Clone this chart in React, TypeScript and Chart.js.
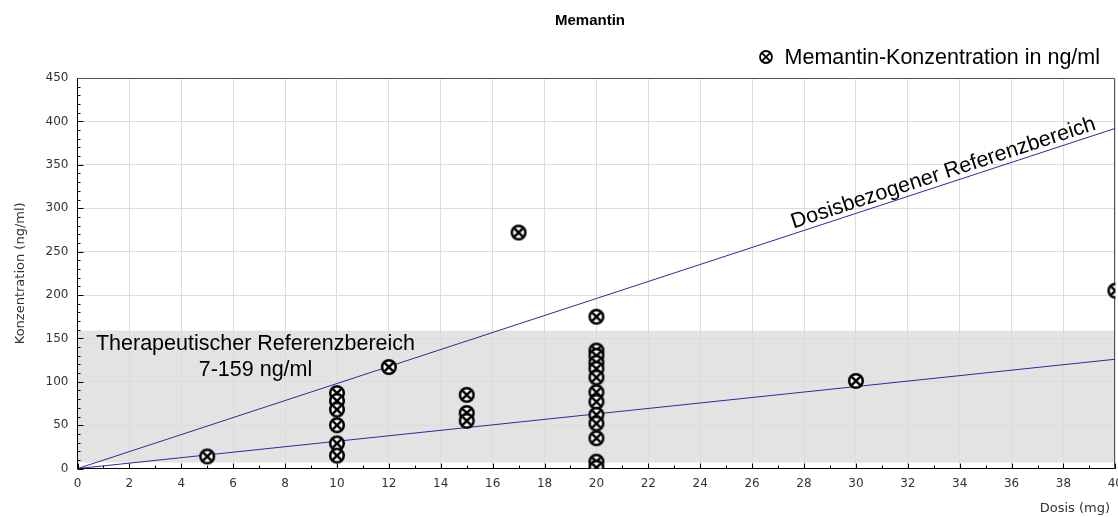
import React, { useEffect, useRef } from 'react';
import { Chart, registerables } from 'chart.js';

Chart.register(...registerables);

// ---- data ----
const doses = [5, 10, 10, 10, 10, 10, 10, 12, 15, 15, 15, 17, 20, 20, 20, 20, 20, 20, 20, 20, 20, 20, 20, 20, 20, 30, 40];
const concentrations = [14, 87, 78, 68, 50, 29, 15, 117, 85, 64, 55, 272, 175, 136, 130, 122, 115, 105, 88, 77, 62, 52, 35, 8, 1, 101, 205];
const lineDoses = [0, 40];
const upperDoseRef = [0, 392];
const lowerDoseRef = [0, 126];
const therapeuticRange = [7, 159];

const chartTitle = 'Memantin';
const seriesLabel = 'Memantin-Konzentration in ng/ml';
const xTitle = 'Dosis (mg)';
const yTitle = 'Konzentration (ng/ml)';
const rangeLabel1 = 'Therapeutischer Referenzbereich';
const rangeLabel2 = '7-159 ng/ml';
const doseRefLabel = 'Dosisbezogener Referenzbereich';

const FONT = "'Liberation Sans', Arial, sans-serif";
const AXFONT = "'DejaVu Sans', Verdana, sans-serif";

function makeMarker(size: number, r: number, lw: number) {
  const c = document.createElement('canvas');
  c.width = size;
  c.height = size;
  const ctx = c.getContext('2d')!;
  const m = size / 2;
  ctx.beginPath();
  ctx.arc(m, m, r, 0, Math.PI * 2);
  ctx.fillStyle = '#ffffff';
  ctx.fill();
  ctx.lineWidth = lw;
  ctx.strokeStyle = '#000000';
  ctx.stroke();
  const d = r * 0.62;
  ctx.beginPath();
  ctx.moveTo(m - d, m - d);
  ctx.lineTo(m + d, m + d);
  ctx.moveTo(m + d, m - d);
  ctx.lineTo(m - d, m + d);
  ctx.stroke();
  return c;
}

export default function App() {
  const ref = useRef<HTMLCanvasElement | null>(null);

  useEffect(() => {
    const canvas = ref.current!;
    const marker = makeMarker(18, 6.8, 2.5);
    const legendMarker = makeMarker(16, 6, 1.8);

    const bandPlugin = {
      id: 'band',
      beforeDraw(chart: any) {
        const { ctx, chartArea, scales } = chart;
        const y1 = scales.y.getPixelForValue(therapeuticRange[1]);
        const y0 = scales.y.getPixelForValue(therapeuticRange[0]);
        ctx.save();
        ctx.fillStyle = '#e3e3e3';
        ctx.fillRect(chartArea.left, y1, chartArea.right - chartArea.left, y0 - y1);
        ctx.restore();
      },
    };

    const ticksPlugin = {
      id: 'insideTicks',
      beforeDatasetsDraw(chart: any) {
        const { ctx, chartArea, scales } = chart;
        const { left, right, top, bottom } = chartArea;
        ctx.save();
        ctx.strokeStyle = '#000';
        ctx.lineWidth = 1;
        ctx.beginPath();
        for (let v = 0; v <= 40; v += 1) {
          const x = Math.round(scales.x.getPixelForValue(v)) + 0.5;
          const len = v % 2 === 0 ? 5 : 3;
          ctx.moveTo(x, bottom);
          ctx.lineTo(x, bottom - len);
        }
        for (let v = 0; v <= 450; v += 10) {
          const y = Math.round(scales.y.getPixelForValue(v)) + 0.5;
          const len = v % 50 === 0 ? 6 : 3;
          ctx.moveTo(left, y);
          ctx.lineTo(left + len, y);
        }
        ctx.stroke();
        // frame top/right
        ctx.strokeStyle = '#555';
        ctx.beginPath();
        ctx.moveTo(left, Math.round(top) + 0.5);
        ctx.lineTo(Math.round(right) - 0.5, Math.round(top) + 0.5);
        ctx.lineTo(Math.round(right) - 0.5, bottom);
        ctx.stroke();
        ctx.restore();
      },
    };

    const textPlugin = {
      id: 'annotTexts',
      afterDatasetsDraw(chart: any) {
        const { ctx, scales } = chart;
        const xs = scales.x;
        const ys = scales.y;
        ctx.save();
        ctx.fillStyle = '#000';
        ctx.font = `21.5px ${FONT}`;
        ctx.textAlign = 'center';
        ctx.textBaseline = 'middle';
        ctx.fillText(rangeLabel1, xs.getPixelForValue(6.86), ys.getPixelForValue(144));
        ctx.fillText(rangeLabel2, xs.getPixelForValue(6.86), ys.getPixelForValue(114));
        // rotated label along upper line
        const px0 = xs.getPixelForValue(lineDoses[0]);
        const py0 = ys.getPixelForValue(upperDoseRef[0]);
        const px1 = xs.getPixelForValue(lineDoses[1]);
        const py1 = ys.getPixelForValue(upperDoseRef[1]);
        const ang = Math.atan2(py1 - py0, px1 - px0);
        const tx = 33.5;
        const cx = xs.getPixelForValue(tx);
        const cy = py0 + (py1 - py0) * (cx - px0) / (px1 - px0);
        ctx.translate(cx, cy);
        ctx.rotate(ang);
        ctx.textBaseline = 'alphabetic';
        ctx.fillText(doseRefLabel, 0, -5);
        ctx.restore();
      },
    };

    const headerPlugin = {
      id: 'header',
      afterDraw(chart: any) {
        const { ctx } = chart;
        ctx.save();
        // title
        ctx.fillStyle = '#000';
        ctx.font = `bold 15px ${FONT}`;
        ctx.textAlign = 'center';
        ctx.textBaseline = 'middle';
        ctx.fillText(chartTitle, 590, 21);
        // legend
        ctx.font = `21.5px ${FONT}`;
        ctx.textAlign = 'right';
        ctx.fillText(seriesLabel, 1100, 58);
        const w = ctx.measureText(seriesLabel).width;
        const mx = 1100 - w - 19;
        ctx.drawImage(legendMarker, Math.round(mx - legendMarker.width / 2), Math.round(57 - legendMarker.height / 2));
        // x axis title
        ctx.font = `13px ${AXFONT}`;
        ctx.fillStyle = '#333';
        ctx.textAlign = 'right';
        ctx.fillText(xTitle, 1110, 509);
        ctx.restore();
      },
    };

    const chart = new Chart(canvas, {
      type: 'scatter',
      data: {
        datasets: [
          {
            label: seriesLabel,
            data: doses.map((d, i) => ({ x: d, y: concentrations[i] })),
            pointStyle: marker as any,
            pointRadius: 8,
            showLine: false,
          },
          {
            label: 'upper',
            data: lineDoses.map((d, i) => ({ x: d, y: upperDoseRef[i] })),
            showLine: true,
            borderColor: '#2a2aa0',
            borderWidth: 1,
            pointRadius: 0,
          },
          {
            label: 'lower',
            data: lineDoses.map((d, i) => ({ x: d, y: lowerDoseRef[i] })),
            showLine: true,
            borderColor: '#2a2aa0',
            borderWidth: 1,
            pointRadius: 0,
          },
        ],
      },
      options: {
        animation: false,
        responsive: false,
        layout: { padding: { top: 78, left: 13, right: 0, bottom: 0 } },
        plugins: {
          tooltip: { enabled: false },
          title: { display: false },
          legend: { display: false },
        },
        scales: {
          x: {
            type: 'linear',
            min: 0,
            max: 40,
            ticks: { stepSize: 2, color: '#333', font: { size: 12, family: AXFONT }, padding: 8, maxRotation: 0 },
            grid: { color: '#dcdcdc', drawTicks: false },
            border: { color: '#000', width: 1 },
            title: {
              display: true,
              text: xTitle,
              align: 'end',
              color: 'rgba(0,0,0,0)',
              font: { size: 13, family: AXFONT, lineHeight: 1 },
              padding: { top: 2, bottom: 3 },
            },
          },
          y: {
            type: 'linear',
            min: 0,
            max: 450,
            ticks: { stepSize: 50, color: '#333', font: { size: 12, family: AXFONT }, padding: 9 },
            grid: { color: '#dcdcdc', drawTicks: false },
            border: { color: '#000', width: 1 },
            title: {
              display: true,
              text: yTitle,
              color: '#333',
              font: { size: 13, family: AXFONT },
              padding: { top: 0, bottom: 8 },
            },
          },
        },
      } as any,
      plugins: [bandPlugin, ticksPlugin, textPlugin, headerPlugin],
    });
    return () => chart.destroy();
  }, []);

  return (
    <div style={{ position: 'absolute', left: 0, top: 0, width: 1118, height: 517, overflow: 'hidden', background: '#fff' }}>
      <canvas ref={ref} width={1131} height={517} style={{ display: 'block' }} />
    </div>
  );
}
